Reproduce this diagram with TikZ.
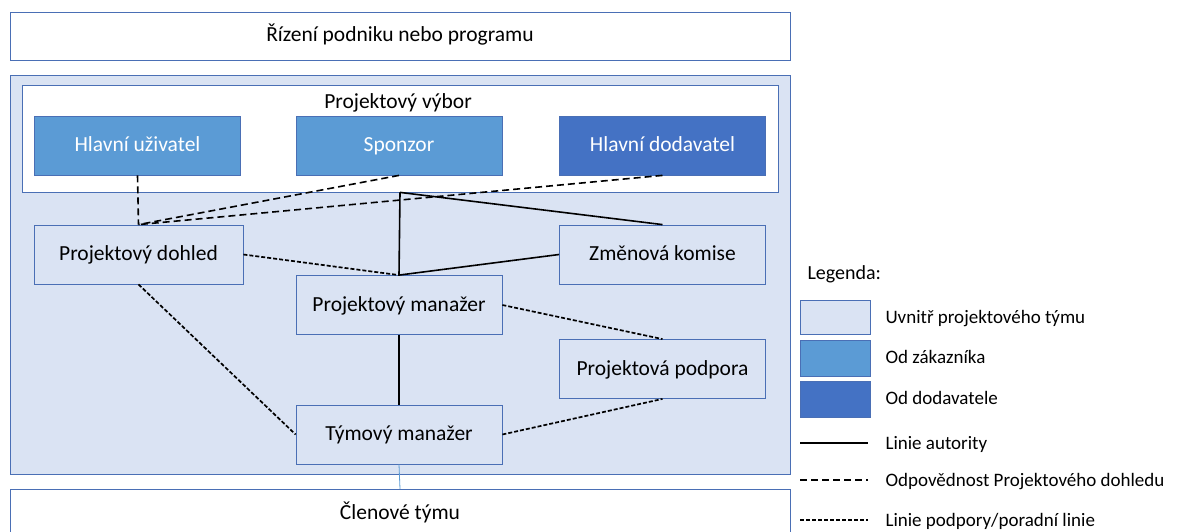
\documentclass[tikz,border=0pt]{standalone}
\usepackage{fontspec}
\setmainfont{Carlito}
\definecolor{teamfill}{HTML}{DAE3F3}
\definecolor{custfill}{HTML}{5B9BD5}
\definecolor{suppfill}{HTML}{4472C4}
\definecolor{edgeblue}{HTML}{4A6FB5}
\begin{document}
\begin{tikzpicture}[x=1pt,y=-1pt,
  every node/.style={font=\fontsize{21.5}{24}\selectfont,text height=16pt,text depth=4pt},
  box/.style={draw=edgeblue,line width=0.8pt,minimum width=206pt,minimum height=59pt,inner sep=0pt},
  teambox/.style={box,fill=teamfill},
  custbox/.style={box,fill=custfill,text=white},
  suppbox/.style={box,fill=suppfill,text=white},
  authority/.style={line width=1.6pt},
  oversight/.style={line width=1.6pt,dash pattern=on 7pt off 4pt},
  support/.style={line width=1.7pt,dash pattern=on 4pt off 2pt},
  legtext/.style={anchor=west,font=\fontsize{19}{21}\selectfont}]
\useasboundingbox (0,0) rectangle (1180,532);
\clip (0,0) rectangle (1180,532);
% top box
\node[draw=edgeblue,line width=0.8pt,fill=white,minimum width=780pt,minimum height=48pt,inner sep=0pt] (rizeni) at (400,36) {Řízení podniku nebo programu};
% outer team region
\node[draw=edgeblue,line width=0.8pt,fill=teamfill,minimum width=780pt,minimum height=399pt,inner sep=0pt] (team) at (400,274.5) {};
% committee
\node[draw=edgeblue,line width=0.8pt,fill=white,minimum width=756pt,minimum height=107pt,inner sep=0pt] (vybor) at (400,138.5) {};
\node (vyborlbl) at (398,103) {Projektový výbor};
\node[custbox] (huz) at (137.5,145.5) {Hlavní uživatel};
\node[custbox] (spon) at (399,145.5) {Sponzor};
\node[suppbox] (hdod) at (662.5,145.5) {Hlavní dodavatel};
\node[teambox,minimum width=209pt] (pd) at (138.5,254.5) {Projektový dohled};
\node[teambox] (zk) at (662.5,254.5) {Změnová komise};
\node[teambox] (pm) at (399,305) {Projektový manažer};
\node[teambox] (pp) at (662.5,369) {Projektová podpora};
\node[teambox] (tm) at (399,434.5) {Týmový manažer};
% members
\node[draw=edgeblue,line width=0.8pt,fill=white,minimum width=780pt,minimum height=60pt,inner sep=0pt,anchor=north] (clen) at (400,489) {};
\node (clenlbl) at (400,513) {Členové týmu};
\draw[custfill,line width=0.8pt] (tm.south) -- (clen.north);
% oversight
\draw[oversight] (huz.south) -- (pd.north);
\draw[oversight] (spon.south) -- (pd.north);
\draw[oversight] (hdod.south) -- (pd.north);
% authority
\draw[authority] (vybor.south) -- (pm.north);
\draw[authority] (vybor.south) -- (zk.north);
\draw[authority] (zk.west) -- (pm.north);
\draw[authority] (pm.south) -- (tm.north);
% support
\draw[support] (pd.east) -- (pm.north);
\draw[support] (pm.east) -- (pp.north);
\draw[support] (pd.south) -- (tm.west);
\draw[support] (tm.east) -- (pp.south);
% legend
\node[anchor=west,font=\fontsize{20}{22}\selectfont] (leg) at (804,273) {Legenda:};
\node[draw=edgeblue,line width=0.8pt,fill=teamfill,minimum width=70pt,minimum height=34pt,inner sep=0pt] (l1) at (835,317) {};
\node[draw=edgeblue,line width=0.8pt,fill=custfill,minimum width=70pt,minimum height=36pt,inner sep=0pt] (l2) at (835,358.5) {};
\node[draw=edgeblue,line width=0.8pt,fill=suppfill,minimum width=70pt,minimum height=36pt,inner sep=0pt] (l3) at (835,399) {};
\node[legtext] (t1) at (882,317) {Uvnitř projektového týmu};
\node[legtext] (t2) at (882,357) {Od zákazníka};
\node[legtext] (t3) at (882,398) {Od dodavatele};
\coordinate (a1) at (800,443); \coordinate (a2) at (868,443);
\coordinate (b1) at (800,480); \coordinate (b2) at (868,480);
\coordinate (c1) at (800,520); \coordinate (c2) at (868,520);
\draw[authority] (a1) -- (a2);
\draw[oversight] (b1) -- (b2);
\draw[support] (c1) -- (c2);
\node[legtext] (t4) at (882,443) {Linie autority};
\node[legtext] (t5) at (882,480) {Odpovědnost Projektového dohledu};
\node[legtext] (t6) at (882,520) {Linie podpory/poradní linie};
\end{tikzpicture}
\end{document}
